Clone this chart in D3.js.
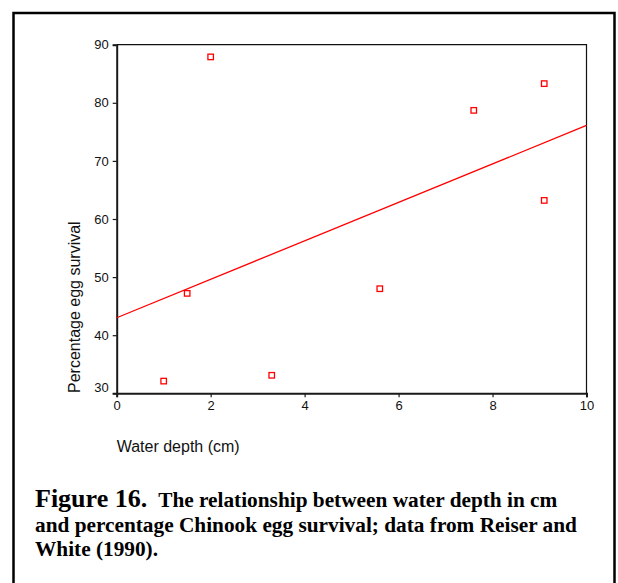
<!DOCTYPE html>
<html>
<head>
<meta charset="utf-8">
<script src="https://cdn.jsdelivr.net/npm/d3@7"></script>
<style>
  html, body { margin: 0; padding: 0; background: #fff; }
  svg { display: block; }
</style>
</head>
<body>
<svg id="chart" width="618" height="583"></svg>
<script>
// ---- data ----
const depthCm = [1.0, 1.5, 2.0, 3.3, 5.6, 7.6, 9.1, 9.1];
const eggSurvivalPct = [32.1, 47.2, 87.9, 33.1, 48.0, 78.7, 83.3, 63.2];
const fitLineX = [0, 10];
const fitLineY = [43.0, 76.1];
const xTicks = [0, 2, 4, 6, 8, 10];
const yTicks = [30, 40, 50, 60, 70, 80, 90];
const xTitle = "Water depth (cm)";
const yTitle = "Percentage egg survival";
const captionLead = "Figure 16.";
const captionLines = [
  "The relationship between water depth in cm",
  "and percentage Chinook egg survival; data from Reiser and",
  "White (1990)."
];

const svg = d3.select("#chart");

// outer frame
svg.append("rect")
  .attr("x", 13.5).attr("y", 13).attr("width", 601).attr("height", 620)
  .attr("fill", "none").attr("stroke", "#000").attr("stroke-width", 2.5);

const plot = { left: 116.7, right: 586.5, top: 44.7, bottom: 393.3 };
const x = d3.scaleLinear().domain([0, 10]).range([plot.left, plot.right]);
const y = d3.scaleLinear().domain([30, 90]).range([plot.bottom, plot.top]);

// top & right frame lines
svg.append("path")
  .attr("d", `M${plot.left},${plot.top}H${plot.right}V${plot.bottom}`)
  .attr("fill", "none").attr("stroke", "#111").attr("stroke-width", 1.2);

// axes
const xAxis = svg.append("g")
  .attr("transform", `translate(0,${plot.bottom})`)
  .call(d3.axisBottom(x).tickValues(xTicks).tickSize(4).tickPadding(3).tickFormat(d3.format("d")));
const yAxis = svg.append("g")
  .attr("transform", `translate(${plot.left},0)`)
  .call(d3.axisLeft(y).tickValues(yTicks).tickSize(4).tickPadding(4).tickFormat(d3.format("d")));

[xAxis, yAxis].forEach(g => {
  g.select(".domain").attr("stroke", "#1a1a1a").attr("stroke-width", 2);
  g.selectAll(".tick line").attr("stroke", "#1a1a1a").attr("stroke-width", 1.2);
  g.selectAll(".tick text")
    .attr("fill", "#111")
    .style("font-family", "'Liberation Sans', Arial, sans-serif")
    .style("font-size", "13px");
});
// lowest y label sits slightly above its tick in the reference
yAxis.selectAll(".tick text").filter((d, i) => i === 0).attr("dy", "-0.15em");

// regression line
const line = d3.line().x(d => x(d[0])).y(d => y(d[1]));
svg.append("path")
  .datum(d3.zip(fitLineX, fitLineY))
  .attr("d", line)
  .attr("fill", "none").attr("stroke", "#ff0000").attr("stroke-width", 1.3);

// points
const s = 5.5;
svg.append("g").selectAll("rect")
  .data(d3.zip(depthCm, eggSurvivalPct))
  .join("rect")
  .attr("x", d => x(d[0]) - s / 2)
  .attr("y", d => y(d[1]) - s / 2)
  .attr("width", s).attr("height", s)
  .attr("fill", "#fff").attr("stroke", "#ff0000").attr("stroke-width", 1.3);

// axis titles
svg.append("text")
  .attr("x", plot.left).attr("y", 452)
  .style("font-family", "'Liberation Sans', Arial, sans-serif")
  .style("font-size", "16px").attr("fill", "#111")
  .text(xTitle);

svg.append("text")
  .attr("transform", `translate(80,393) rotate(-90)`)
  .style("font-family", "'Liberation Sans', Arial, sans-serif")
  .style("font-size", "16px").attr("fill", "#111")
  .text(yTitle);

// caption
const cap = svg.append("g")
  .style("font-family", "'Liberation Serif', 'Times New Roman', serif")
  .style("font-weight", "bold").attr("fill", "#000");
const t1 = cap.append("text").attr("x", 35).attr("y", 507);
t1.append("tspan").style("font-size", "26px").text(captionLead);
t1.append("tspan").style("font-size", "21.3px").attr("dx", 11).text(captionLines[0]);
cap.append("text").attr("x", 35).attr("y", 531.5).style("font-size", "21.3px").text(captionLines[1]);
cap.append("text").attr("x", 35).attr("y", 555.5).style("font-size", "21.3px").text(captionLines[2]);
</script>
</body>
</html>
